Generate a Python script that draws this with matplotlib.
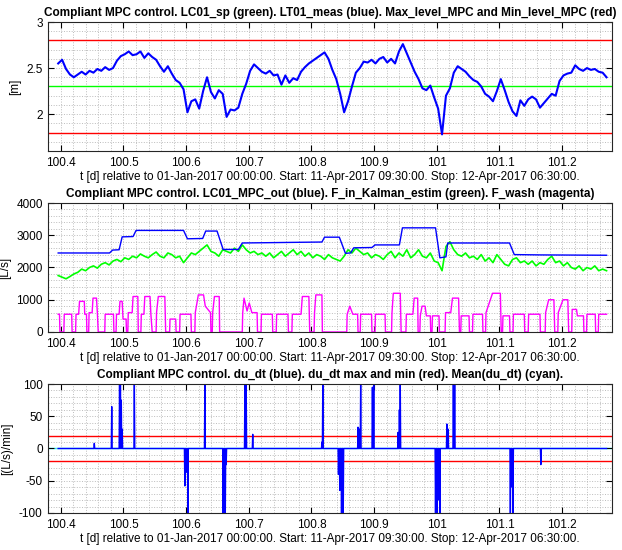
import numpy as np
import matplotlib.pyplot as plt
from matplotlib.ticker import FormatStrFormatter

plt.rcParams['font.family'] = ['Liberation Sans', 'DejaVu Sans']

## Time window in days relative to 01-Jan-2017
t_start = 100 + 9.5 / 24    # 11-Apr-2017 09:30
t_stop = 101 + 6.5 / 24     # 12-Apr-2017 06:30

## Level, sampled every 9 min [m]
level = [2.55, 2.59, 2.49, 2.43, 2.40, 2.43, 2.46, 2.43, 2.47, 2.45,
         2.49, 2.47, 2.51, 2.48, 2.50, 2.58, 2.63, 2.65, 2.68, 2.64,
         2.65, 2.68, 2.61, 2.66, 2.62, 2.59, 2.52, 2.46, 2.52, 2.44,
         2.37, 2.34, 2.27, 2.02, 2.14, 2.16, 2.06, 2.25, 2.40, 2.24,
         2.17, 2.26, 2.22, 1.97, 2.05, 2.04, 2.07, 2.22, 2.33, 2.47,
         2.54, 2.50, 2.46, 2.44, 2.47, 2.42, 2.43, 2.32, 2.42, 2.34,
         2.39, 2.37, 2.46, 2.51, 2.55, 2.58, 2.61, 2.64, 2.67, 2.60,
         2.48, 2.38, 2.22, 2.02, 2.14, 2.30, 2.45, 2.50, 2.57, 2.56,
         2.59, 2.55, 2.60, 2.62, 2.56, 2.60, 2.55, 2.68, 2.76, 2.66,
         2.56, 2.46, 2.38, 2.28, 2.26, 2.31, 2.18, 2.06, 1.78, 2.20,
         2.28, 2.45, 2.52, 2.49, 2.46, 2.41, 2.37, 2.35, 2.30, 2.22,
         2.19, 2.14, 2.25, 2.38, 2.26, 2.13, 2.03, 1.98, 2.15, 2.09,
         2.16, 2.19, 2.16, 2.07, 2.12, 2.17, 2.22, 2.20, 2.36, 2.42,
         2.44, 2.45, 2.53, 2.49, 2.47, 2.50, 2.48, 2.49, 2.46, 2.45,
         2.40]
level_sp = 2.3
level_max = 2.8
level_min = 1.8

## MPC output corners (minutes after start, L/s)
mpc_min = [0, 118, 125, 140, 147, 172, 179, 288, 297, 332, 339, 365, 379,
           414, 423, 606, 612, 646, 660, 672, 679, 721, 728, 784, 791, 867,
           877, 891, 895, 1037, 1048, 1109, 1260]
mpc_out = [2450, 2450, 2540, 2550, 2950, 2960, 3150, 3150, 2890, 2900,
           3130, 3130, 2560, 2560, 2760, 2790, 2940, 2940, 2440, 2450,
           2610, 2620, 2700, 2700, 3230, 3230, 2300, 2330, 2760, 2760,
           2400, 2390, 2380]

## Kalman estimate of inflow, sampled every 9 min [L/s]
f_in = [1750, 1700, 1650, 1720, 1800, 1850, 1950, 1900, 2000, 2050,
        1980, 2100, 2150, 2080, 2200, 2250, 2180, 2300, 2250, 2350,
        2300, 2420, 2350, 2300, 2400, 2480, 2350, 2300, 2450, 2400,
        2300, 2350, 2150, 2300, 2450, 2400, 2500, 2600, 2700, 2500,
        2450, 2350, 2550, 2500, 2450, 2600, 2500, 2700, 2550, 2450,
        2500, 2400, 2450, 2350, 2450, 2300, 2400, 2500, 2350, 2450,
        2550, 2400, 2500, 2350, 2450, 2300, 2400, 2350, 2250, 2400,
        2300, 2250, 2200, 2350, 2550, 2450, 2600, 2500, 2400, 2450,
        2300, 2400, 2350, 2250, 2400, 2500, 2300, 2450, 2350, 2550,
        2300, 2400, 2550, 2350, 2300, 2450, 2200, 2150, 1900, 2650,
        2800, 2550, 2400, 2350, 2450, 2300, 2350, 2250, 2400, 2200,
        2300, 2150, 2400, 2250, 2100, 2050, 2250, 2300, 2150, 2200,
        2100, 2200, 2050, 2150, 2100, 2250, 2350, 2150, 2200, 2050,
        2150, 2000, 1950, 2050, 1900, 2000, 1950, 2050, 1900, 1950,
        1900]

## Wash flow corners (minutes after start, L/s)
wash_min = [0, 3, 4, 13, 14, 31, 32, 40, 41, 47, 49, 60, 61, 65, 66, 70,
            71, 78, 80, 88, 90, 92, 107, 108, 127, 128, 133, 134, 140, 142,
            147, 149, 156, 157, 160, 161, 170, 172, 183, 184, 190, 191, 197,
            199, 211, 213, 216, 225, 226, 230, 245, 247, 256, 257, 270, 271,
            279, 280, 305, 306, 314, 315, 322, 334, 338, 350, 351, 354, 355,
            359, 370, 371, 423, 424, 427, 434, 439, 445, 457, 458, 466, 467,
            492, 493, 501, 502, 528, 529, 537, 538, 558, 561, 576, 578, 588,
            589, 592, 606, 607, 663, 664, 670, 677, 688, 689, 694, 695, 720,
            721, 728, 729, 751, 752, 766, 767, 770, 786, 788, 799, 800, 815,
            818, 826, 827, 831, 832, 836, 843, 846, 855, 856, 859, 860, 875,
            876, 889, 890, 902, 906, 920, 922, 925, 926, 944, 945, 952, 953,
            975, 976, 982, 983, 998, 1016, 1018, 1021, 1022, 1037, 1038, 1045,
            1046, 1071, 1072, 1080, 1081, 1107, 1108, 1119, 1120, 1127, 1139,
            1141, 1148, 1149, 1160, 1171, 1173, 1180, 1181, 1191, 1193, 1207,
            1208, 1214, 1215, 1234, 1235, 1241, 1242, 1260]
wash = [550, 550, 0, 0, 550, 550, 0, 0, 550, 550, 950, 950, 550, 550, 0, 0,
        600, 600, 1050, 1050, 600, 0, 0, 550, 550, 0, 0, 550, 550, 950,
        950, 400, 400, 0, 0, 600, 600, 1100, 1100, 0, 0, 550, 550,
        1100, 1100, 550, 0, 0, 600, 1100, 1100, 0, 0, 400, 400, 0,
        0, 550, 550, 0, 0, 600, 1150, 1150, 800, 600, 0, 0, 600,
        1100, 1100, 0, 0, 600, 1050, 650, 900, 600, 600, 0, 0, 550,
        550, 0, 0, 550, 550, 0, 0, 550, 550, 1100, 1100, 0, 0,
        600, 1150, 1150, 0, 0, 550, 800, 550, 550, 0, 0, 550, 550,
        0, 0, 550, 550, 0, 0, 600, 1200, 1200, 0, 0, 550, 550,
        1050, 1050, 0, 0, 500, 800, 800, 500, 500, 0, 0, 500, 500,
        0, 0, 600, 600, 1050, 1050, 0, 0, 500, 500, 0, 0, 550,
        550, 0, 0, 600, 1200, 1200, 0, 0, 500, 500, 0, 0,
        550, 550, 0, 0, 550, 550, 0, 0, 600, 1000, 1000,
        0, 0, 600, 1000, 1000, 0, 0, 700, 700, 500, 500,
        0, 0, 550, 550, 0, 0, 550, 550]

## du_dt spikes (minutes after start, (L/s)/min), zero elsewhere
spike_min = [83, 123, 141, 143, 145, 147, 175, 291, 294, 296, 298, 337, 379,
             381, 384, 386, 429, 432, 447, 606, 608, 644, 647, 651, 655, 689,
             692, 695, 722, 725, 781, 784, 786, 867, 871, 875, 877, 893, 896,
             908, 911, 1039, 1043, 1045, 1109]
spike_val = [8, 65, 100, 100, 75, 30, 100, -58, -20, -37, -100, 100, -100,
             -100, -100, -25, 100, 100, 22, 10, 100, -40, -65, -100, -100, 33,
             30, 100, 95, 100, 25, 60, 100, -100, -100, -80, -100, 38, 30,
             100, 100, -100, -60, -100, -25]
du_max = 20
du_min = -20

xlab = ('t [d] relative to 01-Jan-2017 00:00:00. Start: 11-Apr-2017 09:30:00. '
        'Stop: 12-Apr-2017 06:30:00.')

BLUE, GREEN, RED = '#0000ff', '#00ff00', '#ff0000'
MAGENTA, CYAN = '#ff00ff', '#00ffff'


def days(minutes):
    return t_start + np.asarray(minutes) / 1440.0


def style(ax, ylim, yticks, ystep):
    ax.set_xlim(t_start, t_stop)
    ax.set_ylim(ylim)
    ax.set_xticks(np.arange(100.4, 101.25, 0.1))
    ax.set_xticks(np.arange(100.38, 101.28, 0.02), minor=True)
    ax.set_yticks(yticks)
    ax.set_yticks(np.arange(ylim[0], ylim[1] + ystep / 2, ystep), minor=True)
    ax.xaxis.set_major_formatter(FormatStrFormatter('%g'))
    ax.yaxis.set_major_formatter(FormatStrFormatter('%g'))
    ax.grid(which='both', ls=':', color='#bcbcbc', lw=0.7)
    ax.tick_params(which='major', direction='in', top=True, right=True,
                   length=4, width=0.8, labelsize=8.5, pad=4)
    ax.tick_params(which='minor', length=0)
    for s in ax.spines.values():
        s.set_linewidth(0.8)
        s.set_color('#262626')
    ax.set_xlabel(xlab, fontsize=8.5, labelpad=2)


fig = plt.figure(figsize=(6.22, 5.5), dpi=100)
left, width, height = 0.0776, 0.9068, 0.2345

## Level
ax1 = fig.add_axes([left, 0.7255, width, height])
t_lvl = np.linspace(t_start, t_stop, len(level))
ax1.axhline(level_max, color=RED, lw=1.0)
ax1.axhline(level_min, color=RED, lw=1.0)
ax1.axhline(level_sp, color=GREEN, lw=1.0)
ax1.plot(t_lvl, level, color=BLUE, lw=1.5)
style(ax1, (1.6, 3.0), [2, 2.5, 3], 0.1)
ax1.set_ylabel('[m]', fontsize=8.5)
ax1.set_title('Compliant MPC control. LC01_sp (green). LT01_meas (blue). '
              'Max_level_MPC and Min_level_MPC (red)',
              fontsize=8.5, fontweight='bold', pad=4)

## Flows
ax2 = fig.add_axes([left, 0.3964, width, height])
t_fin = np.linspace(t_start, t_stop, len(f_in))
ax2.plot(t_fin, f_in, color=GREEN, lw=1.2)
ax2.plot(days(mpc_min), mpc_out, color=BLUE, lw=1.0)
ax2.plot(days(wash_min), wash, color=MAGENTA, lw=1.0)
style(ax2, (0, 4000), [0, 1000, 2000, 3000, 4000], 200)
ax2.set_ylabel('[L/s]', fontsize=8.5)
ax2.set_title('Compliant MPC control. LC01_MPC_out (blue). '
              'F_in_Kalman_estim (green). F_wash (magenta)',
              fontsize=8.5, fontweight='bold', pad=4)

## Rate of change of MPC output
ax3 = fig.add_axes([left, 0.0673, width, height])
du = np.zeros(1261)
du[spike_min] = spike_val
t_du = days(np.arange(1261))
ax3.axhline(du_max, color=RED, lw=1.0)
ax3.axhline(du_min, color=RED, lw=1.0)
ax3.axhline(du.mean(), color=CYAN, lw=1.0, zorder=1)
ax3.plot(t_du, du, color=BLUE, lw=1.0)
style(ax3, (-100, 100), [-100, -50, 0, 50, 100], 10)
ax3.set_ylabel('[(L/s)/min]', fontsize=8.5)
ax3.set_title('Compliant MPC control. du_dt (blue). du_dt max and min (red). '
              'Mean(du_dt) (cyan).', fontsize=8.5, fontweight='bold', pad=4)

fig.savefig('out.png', dpi=100)
